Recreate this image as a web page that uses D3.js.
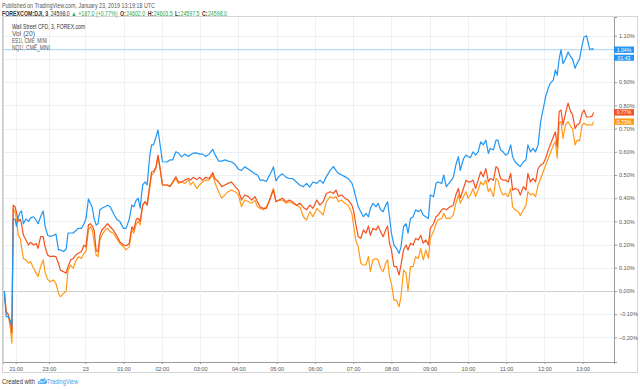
<!DOCTYPE html>
<html>
<head>
<meta charset="utf-8">
<script src="https://cdn.jsdelivr.net/npm/d3@7"></script>
<style>
  html, body { margin: 0; padding: 0; background: #fff; }
  svg { display: block; font-family: 'Liberation Sans', Arial, sans-serif; }
</style>
</head>
<body>
<div id="svg"></div>
<script>
// chart time in minutes from the first bar (the overnight break is squeezed out)
const minutes = [2,5,8,12,14,16,19,21,24,27,29,32,36,40,43,48,52,55,59,63,66,70,74,79,83,87,90,95,99,102,
  106,110,114,118,123,127,130,134,137,140,143,146,149,152,155,160,164,168,173,178,183,189,193,198,202,205,209,212,215,219,
  223,226,230,233,
  236,240,243,246,250,257,262,266,271,275,280,285,291,294,298,304,308,313,318,323,329,332,338,343,348,353,358,364,369,374,
  379,385,390,395,399,403,408,413,417,421,424,428,433,438,444,449,454,460,466,471,
  476,481,486,492,497,502,507,513,518,522,526,531,536,541,547,550,553,557,561,565,569,573,576,580,585,588,592,596,600,603,
  606,609,613,617,621,624,628,632,635,639,643,647,651,655,659,663,667,670,675,679,682,688,691,695,
  701,706,710,714,717,722,726,729,733,737,741,745,749,753,757,761,764,769,773,776,780,784,788,792,796,799,803,808,811,816,
  820,823,827,831,835,839,843,847,851,855,858,863,866,869,872,875,878,882,886,890,893,897,900,904,908,911,915,920,924,926];

// Wall Street CFD, 3, FOREX.com  (% change)
const wallStreet = [0.00,-0.11,-0.11,-0.13,-0.15,0.31,0.31,0.28,0.32,0.34,0.345,0.29,0.31,0.30,0.315,0.32,0.305,0.29,0.32,0.345,
  0.28,0.24,0.235,0.24,0.245,0.177,0.177,0.17,0.18,0.25,0.25,0.25,0.26,0.27,0.27,0.29,0.31,0.397,0.378,0.36,
  0.31,0.285,0.29,0.35,0.357,0.363,0.37,0.363,0.335,0.31,0.30,0.27,0.27,0.31,0.37,0.363,0.392,0.40,0.357,0.457,
  0.47,0.457,0.58,0.63,
  0.63,0.665,0.694,0.637,0.557,0.556,0.565,0.565,0.60,0.595,0.578,0.59,0.58,0.587,0.594,0.595,0.59,0.59,0.58,0.59,
  0.61,0.59,0.56,0.56,0.565,0.56,0.557,0.545,0.525,0.52,0.535,0.525,0.515,0.505,0.50,0.478,0.478,0.472,0.495,0.515,
  0.535,0.475,0.495,0.505,0.49,0.485,0.485,0.47,0.455,0.45,
  0.464,0.448,0.47,0.464,0.478,0.464,0.493,0.52,0.536,0.52,0.507,0.50,0.493,0.485,0.465,0.44,0.406,0.363,0.342,0.32,
  0.335,0.32,0.356,0.378,0.363,0.378,0.35,0.342,0.37,0.385,0.32,0.249,0.198,0.184,0.162,0.19,0.277,0.29,0.249,0.313,
  0.32,0.35,0.342,0.35,0.327,0.32,0.313,0.414,0.406,0.464,0.47,0.464,0.50,0.45,
  0.47,0.49,0.543,0.579,0.52,0.57,0.586,0.58,0.575,0.60,0.586,0.60,0.643,0.63,0.65,0.593,0.615,0.608,0.65,0.65,
  0.608,0.60,0.586,0.593,0.63,0.579,0.557,0.543,0.536,0.557,0.565,0.63,0.60,0.615,0.60,0.63,0.73,0.785,0.84,0.875,
  0.895,0.91,0.953,0.93,1.0,1.04,0.98,1.00,1.03,1.01,1.00,0.96,0.98,1.00,1.06,1.095,1.10,1.04,1.045,1.04];

// ES1!, CME_MINI
const es1 = [0.00,-0.09,-0.10,-0.14,-0.18,0.37,0.363,0.34,0.30,0.31,0.29,0.24,0.22,0.198,0.21,0.198,0.205,0.184,0.234,0.234,
  0.19,0.155,0.148,0.15,0.148,0.12,0.09,0.083,0.077,0.105,0.134,0.14,0.155,0.163,0.17,0.198,0.19,0.285,0.29,0.28,
  0.26,0.175,0.17,0.24,0.263,0.277,0.29,0.277,0.263,0.24,0.213,0.198,0.195,0.205,0.277,0.263,0.31,0.313,0.30,0.37,
  0.385,0.37,0.457,0.514,
  0.514,0.535,0.586,0.535,0.457,0.457,0.452,0.47,0.492,0.47,0.47,0.478,0.485,0.478,0.49,0.48,0.49,0.478,0.49,0.485,
  0.51,0.485,0.47,0.45,0.457,0.464,0.47,0.45,0.435,0.392,0.414,0.407,0.392,0.407,0.385,0.363,0.356,0.356,0.385,0.414,
  0.435,0.385,0.392,0.40,0.385,0.392,0.385,0.37,0.378,0.36,
  0.35,0.37,0.356,0.392,0.37,0.385,0.42,0.428,0.42,0.435,0.407,0.414,0.40,0.392,0.37,0.342,0.29,0.234,0.227,0.263,
  0.249,0.28,0.24,0.27,0.263,0.28,0.256,0.234,0.263,0.28,0.206,0.177,0.105,0.105,0.069,0.112,0.177,0.198,0.177,0.206,
  0.198,0.227,0.22,0.24,0.206,0.22,0.198,0.27,0.29,0.32,0.327,0.35,0.356,0.35,
  0.363,0.37,0.414,0.442,0.40,0.442,0.478,0.47,0.47,0.478,0.442,0.478,0.514,0.492,0.528,0.47,0.485,0.478,0.536,0.528,
  0.485,0.478,0.478,0.47,0.507,0.435,0.442,0.435,0.414,0.45,0.435,0.507,0.47,0.485,0.47,0.528,0.543,0.55,0.572,0.608,
  0.63,0.665,0.686,0.62,0.773,0.78,0.716,0.766,0.81,0.773,0.76,0.70,0.716,0.723,0.766,0.78,0.75,0.75,0.755,0.77];

// NQ1!, CME_MINI
const nq1 = [0.00,-0.09,-0.10,-0.17,-0.225,0.356,0.34,0.31,0.24,0.227,0.19,0.14,0.134,0.12,0.127,0.098,0.077,0.062,0.105,0.134,
  0.08,0.05,0.04,0.047,0.033,-0.01,-0.025,-0.01,0.00,0.09,0.112,0.098,0.127,0.148,0.14,0.163,0.17,0.263,0.277,0.263,
  0.21,0.155,0.148,0.22,0.24,0.263,0.27,0.256,0.249,0.227,0.206,0.19,0.177,0.19,0.263,0.249,0.29,0.30,0.285,0.37,
  0.385,0.37,0.442,0.50,
  0.507,0.53,0.58,0.53,0.457,0.457,0.45,0.467,0.485,0.464,0.47,0.464,0.478,0.457,0.47,0.442,0.457,0.47,0.478,0.478,
  0.50,0.47,0.428,0.40,0.414,0.428,0.435,0.428,0.414,0.363,0.392,0.385,0.378,0.392,0.363,0.356,0.35,0.363,0.385,0.42,
  0.442,0.385,0.392,0.392,0.378,0.385,0.378,0.37,0.36,0.32,
  0.306,0.342,0.32,0.356,0.342,0.327,0.385,0.407,0.40,0.407,0.385,0.392,0.378,0.37,0.335,0.277,0.22,0.19,0.12,0.112,
  0.112,0.148,0.083,0.134,0.14,0.134,0.098,0.083,0.12,0.134,0.062,0.033,-0.039,-0.039,-0.068,-0.025,0.09,0.077,0.00,0.105,
  0.105,0.148,0.14,0.184,0.134,0.177,0.14,0.227,0.256,0.29,0.306,0.313,0.335,0.313,
  0.313,0.327,0.378,0.414,0.378,0.407,0.428,0.40,0.414,0.442,0.407,0.435,0.47,0.457,0.478,0.428,0.442,0.407,0.485,0.478,
  0.435,0.414,0.42,0.407,0.442,0.363,0.35,0.342,0.325,0.35,0.37,0.428,0.414,0.42,0.407,0.457,0.485,0.514,0.543,0.572,
  0.593,0.63,0.643,0.572,0.723,0.73,0.658,0.716,0.73,0.71,0.70,0.63,0.65,0.647,0.716,0.723,0.716,0.716,0.716,0.73];

const timeTicks = [20,72,129,189,249,309,369,429,489,549,609,669,729,789,849,909];
const timeLabels = ['21:00','23:00','23','01:00','02:00','03:00','04:00','05:00','06:00','07:00','08:00','09:00','10:00','11:00','12:00','13:00'];
const pctGrid = [-0.2,-0.1,0,0.1,0.2,0.3,0.4,0.5,0.6,0.7,0.8,0.9,1.0,1.1];
// 1.00% sits under the last-value tags, so the axis shows no label for it
const pctTicks = [-0.2,-0.1,0,0.1,0.2,0.3,0.4,0.5,0.6,0.7,0.8,0.9,1.1];

const seriesNames = ['Wall Street CFD, 3, FOREX.com','Vol (20)','ES1!, CME_MINI','NQ1!, CME_MINI'];
const lastLabels = ['1.04%','0.77%','0.73%'];
const countdown = '01:43';

let w = 640, h = 389;
let plotL = 3, plotR = 614, plotT = 17, plotB = 362;
let blue = '#2196f3', red = '#f4511e', orange = '#ff9a1a', green = '#26a65b';

let svg = d3.select('#svg').append('svg').attr('width', w).attr('height', h);

let xScale = d3.scaleLinear().domain([0, 958]).range([plotL, plotR]);
let yScale = d3.scaleLinear().domain([-0.306, 1.181]).range([plotB, plotT]);

// outer frame
svg.append('rect')
  .attr('x', 2.5).attr('y', 16.5).attr('width', 635).attr('height', 356)
  .style('fill', 'none').style('stroke', '#d6d6d6');

// grid
svg.append('g').selectAll('line').data(pctGrid).enter().append('line')
  .attr('x1', plotL).attr('x2', plotR)
  .attr('y1', d => Math.round(yScale(d)) + 0.5).attr('y2', d => Math.round(yScale(d)) + 0.5)
  .style('stroke', d => d === 0 ? '#cfcfcf' : '#edf1f5').style('stroke-width', 1);
svg.append('g').selectAll('line').data(timeTicks).enter().append('line')
  .attr('x1', d => Math.round(xScale(d)) + 0.5).attr('x2', d => Math.round(xScale(d)) + 0.5)
  .attr('y1', plotT).attr('y2', plotB)
  .style('stroke', '#edf1f5');

// last price line of the main series
let lastY = yScale(wallStreet[wallStreet.length - 1]);
svg.append('line')
  .attr('x1', plotL).attr('x2', plotR).attr('y1', lastY).attr('y2', lastY)
  .style('stroke', '#8fc9f7').style('stroke-width', 0.8);

// lines
let line = d3.line().x((d, i) => xScale(minutes[i])).y(d => yScale(d));
[[nq1, orange], [es1, red], [wallStreet, blue]].forEach(s => {
  svg.append('path').datum(s[0]).attr('d', line)
    .style('fill', 'none').style('stroke', s[1]).style('stroke-width', 1.2)
    .style('stroke-linejoin', 'round');
});

// axes
let yAxis = d3.axisRight(yScale).tickValues(pctTicks).tickSize(3).tickPadding(2)
  .tickFormat(d => d3.format('.2f')(d) + '%');
let gy = svg.append('g').attr('transform', 'translate(' + plotR + ',0)').call(yAxis);
let xAxis = d3.axisBottom(xScale).tickValues(timeTicks).tickSize(2).tickPadding(3)
  .tickFormat((d, i) => timeLabels[i]);
let gx = svg.append('g').attr('transform', 'translate(0,' + plotB + ')').call(xAxis);
[gx, gy].forEach(g => {
  g.select('.domain').style('stroke', '#9a9a9a');
  g.selectAll('.tick line').style('stroke', '#9a9a9a');
  g.selectAll('.tick text').style('fill', '#555').style('font-size', '5.5px')
    .style('font-family', "'Liberation Sans', Arial, sans-serif");
});
svg.append('line').attr('x1', plotL).attr('x2', plotL).attr('y1', plotT).attr('y2', plotB)
  .style('stroke', '#bdbdbd');

// last value tags on the right axis
let tags = [[wallStreet, blue, lastLabels[0]], [es1, red, lastLabels[1]], [nq1, orange, lastLabels[2]]];
tags.forEach(t => {
  let y = yScale(t[0][t[0].length - 1]);
  svg.append('rect').attr('x', plotR).attr('y', y - 3.2).attr('width', 20).attr('height', 6.4).style('fill', t[1]);
  svg.append('text').text(t[2]).attr('x', plotR + 10).attr('y', y + 1.9)
    .attr('text-anchor', 'middle').style('fill', '#fff').style('font-size', '5.2px');
});
let cy = lastY + 8;
svg.append('rect').attr('x', plotR).attr('y', cy - 3).attr('width', 20).attr('height', 6).style('fill', blue);
svg.append('text').text(countdown).attr('x', plotR + 10).attr('y', cy + 1.9)
  .attr('text-anchor', 'middle').style('fill', '#fff').style('font-size', '5.2px');

// legend
let legendY = [29, 35.7, 43, 50.3];
let legendLen = [73, 23, 35, 38];
seriesNames.forEach((n, i) => {
  svg.append('text').text(n).attr('x', 12).attr('y', legendY[i])
    .attr('textLength', legendLen[i]).attr('lengthAdjust', 'spacingAndGlyphs')
    .style('fill', i === 0 ? '#333' : '#555').style('font-size', '6.5px');
});

// header
svg.append('text').text('Published on TradingView.com, January 23, 2019 13:19:18 UTC')
  .attr('x', 2).attr('y', 7.5).attr('textLength', 153).attr('lengthAdjust', 'spacingAndGlyphs')
  .style('fill', '#555').style('font-size', '6.5px');

// symbol line: parts laid out one after another, then squeezed to the width seen in the picture
let parts = [
  ['FOREXCOM:DJI, 3', '#333', 'bold'], ['24598.0', '#333', 'normal'], ['\u25B2', green, 'normal'],
  ['+187.0 (+0.77%)', green, 'normal'], ['O:', '#333', 'bold'], ['24602.0', green, 'normal'],
  ['H:', '#333', 'bold'], ['24603.5', green, 'normal'], ['L:', '#333', 'bold'], ['24597.5', green, 'normal'],
  ['C:', '#333', 'bold'], ['24598.0', green, 'normal']
];
let gaps = [3, 2, 2, 3, 0.5, 3, 0.5, 3, 0.5, 3, 0.5, 0];
let hdr = svg.append('g');
let cx = 0;
parts.forEach((p, i) => {
  let t = hdr.append('text').text(p[0]).attr('x', cx).attr('y', 0)
    .style('fill', p[1]).style('font-weight', p[2]).style('font-size', '6.5px');
  cx += t.node().getComputedTextLength() + gaps[i];
});
hdr.attr('transform', 'translate(2,15.5) scale(' + (225 / cx) + ',1)');

// footer
svg.append('text').text('Created with').attr('x', 2).attr('y', 384)
  .attr('textLength', 33).attr('lengthAdjust', 'spacingAndGlyphs')
  .style('fill', '#333').style('font-size', '6.5px');
let logo = svg.append('g').attr('transform', 'translate(37,378)');
logo.append('path')
  .attr('d', 'M1,6 Q0,3 3,3 Q3,0 6,1 Q8,-1 9,2 Q11,2 10,5 L9,6 Z')
  .style('fill', '#5ab0f2');
logo.append('path').attr('d', 'M2,5 L4,3.5 L6,4.5 L8.5,2').style('fill', 'none')
  .style('stroke', '#fff').style('stroke-width', 0.8);
svg.append('text').text('TradingView').attr('x', 47).attr('y', 384)
  .attr('textLength', 31).attr('lengthAdjust', 'spacingAndGlyphs')
  .style('fill', '#3a9ee8').style('font-size', '6.5px');
</script>
</body>
</html>
